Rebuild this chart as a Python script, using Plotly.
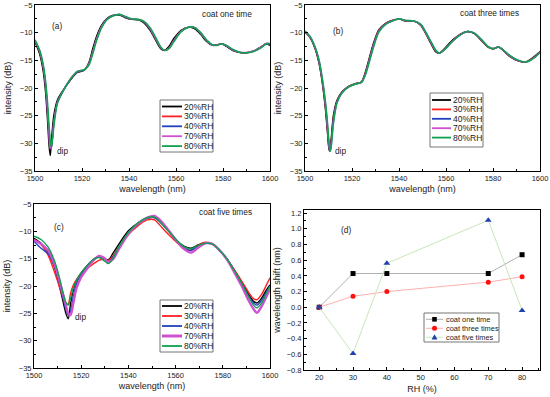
import plotly.graph_objects as go

# ---------------- data ----------------
rh_labels = ["20%RH", "30%RH", "40%RH", "70%RH", "80%RH"]
rh_colors = ["#000000", "#ff2020", "#2040c0", "#d050d0", "#10a050"]

# panel (a): coat one time
wl_a = [1500, 1502, 1503.5, 1504.5, 1505.3, 1506, 1506.5, 1507, 1508, 1509.5, 1512, 1515, 1518,
        1521, 1523, 1524.5, 1526, 1528, 1530.5, 1533, 1536, 1538.5, 1541, 1544, 1546.5, 1549,
        1551.5, 1553.5, 1555, 1557, 1559, 1562, 1565.5, 1568, 1570.5, 1573, 1575.5, 1577.5,
        1579.5, 1581.5, 1584.5, 1587.5, 1590.5, 1593, 1596, 1598.5, 1600]
a_20 = [-11.7, -13.9, -17.0, -20.8, -25.6, -30.5, -32.2, -29.5, -25.0, -22.2, -20.4, -18.6, -17.2,
        -16.8, -15.3, -13.0, -10.9, -8.9, -7.5, -6.9, -6.8, -7.3, -7.6, -7.7, -8.3, -9.6,
        -11.5, -12.9, -13.2, -12.5, -11.1, -9.6, -9.0, -9.3, -10.3, -11.6, -12.3, -12.2,
        -12.0, -12.5, -13.3, -13.6, -13.6, -13.3, -12.6, -12.0, -12.3]
a_30 = [-11.45, -13.45, -16.2, -19.6, -23.8, -28.6, -31.0, -30.6, -26.2, -22.6, -20.5, -18.5, -17.1,
        -16.75, -15.6, -13.6, -11.4, -9.2, -7.6, -6.95, -6.75, -7.2, -7.55, -7.65, -8.1, -9.3,
        -11.2, -12.7, -13.2, -12.8, -11.5, -9.8, -9.0, -9.15, -10.1, -11.4, -12.25, -12.25,
        -12.0, -12.4, -13.2, -13.6, -13.6, -13.35, -12.7, -12.0, -12.1]
a_40 = [-11.45, -13.4, -16.2, -19.5, -23.7, -28.5, -31.0, -30.6, -26.3, -22.6, -20.5, -18.5, -17.1,
        -16.75, -15.6, -13.6, -11.4, -9.2, -7.6, -6.95, -6.75, -7.2, -7.55, -7.65, -8.1, -9.3,
        -11.2, -12.7, -13.2, -12.8, -11.5, -9.8, -9.0, -9.15, -10.1, -11.4, -12.25, -12.25,
        -12.0, -12.4, -13.2, -13.6, -13.6, -13.35, -12.7, -12.0, -12.1]
a_70 = [-11.4, -13.4, -16.1, -19.4, -23.6, -28.4, -30.9, -30.6, -26.4, -22.7, -20.5, -18.4, -17.0,
        -16.7, -15.6, -13.6, -11.4, -9.2, -7.6, -6.95, -6.7, -7.15, -7.5, -7.6, -8.05, -9.3,
        -11.2, -12.7, -13.2, -12.8, -11.5, -9.8, -9.0, -9.1, -10.1, -11.4, -12.25, -12.25,
        -12.0, -12.35, -13.15, -13.55, -13.55, -13.3, -12.65, -11.9, -11.95]
a_80 = [-11.3, -13.2, -15.8, -18.8, -22.5, -27.0, -29.5, -30.7, -27.0, -22.8, -20.5, -18.4, -17.0,
        -16.7, -15.8, -13.9, -11.7, -9.4, -7.7, -7.0, -6.7, -7.1, -7.5, -7.6, -8.0, -9.1,
        -11.0, -12.6, -13.2, -12.9, -11.7, -9.9, -9.0, -9.1, -10.0, -11.3, -12.2, -12.3,
        -12.0, -12.3, -13.1, -13.6, -13.6, -13.4, -12.8, -12.0, -12.0]

# panel (b): coat three times
wl_b = [1500, 1502, 1504.3, 1506, 1507.4, 1508.6, 1509.6, 1510.0, 1510.4, 1510.8, 1511.2, 1512.1,
        1513.6, 1515.7, 1518.6, 1521.4, 1524, 1525.7, 1527.1, 1529.3, 1531.4, 1534.3, 1537.1,
        1540, 1542.9, 1546.4, 1549.3, 1551.4, 1553.6, 1555.7, 1557.1, 1559.3, 1562.9, 1566.4,
        1569.3, 1572.1, 1575, 1577.9, 1580, 1582.4, 1584.3, 1587.1, 1590.7, 1593.9, 1596.4,
        1599.3, 1600]
b_20 = [-9.9, -10.8, -12.9, -15.6, -19.2, -23.4, -28.3, -30.4, -31.4, -30.4, -28.9, -24.9,
        -22.2, -20.7, -19.7, -19.2, -18.9, -17.1, -15.0, -11.7, -9.5, -8.3, -7.8,
        -7.5, -7.9, -7.9, -8.7, -10.2, -12.0, -13.5, -13.7, -12.9, -11.3, -10.2,
        -9.8, -10.2, -11.4, -12.6, -12.9, -12.6, -13.2, -14.3, -15.1, -15.3, -14.7,
        -13.7, -13.4]
b_30 = [-9.85, -10.75, -12.8, -15.4, -18.9, -23.0, -27.7, -29.9, -31.3, -30.8, -29.5, -25.4,
        -22.4, -20.8, -19.7, -19.2, -18.9, -17.3, -15.2, -11.9, -9.6, -8.35, -7.8,
        -7.5, -7.9, -7.9, -8.65, -10.1, -11.9, -13.4, -13.7, -13.0, -11.4, -10.2,
        -9.8, -10.15, -11.35, -12.6, -12.9, -12.6, -13.15, -14.25, -15.1, -15.3, -14.75,
        -13.75, -13.45]
b_40 = [-9.8, -10.7, -12.75, -15.3, -18.8, -22.8, -27.4, -29.6, -31.2, -31.0, -29.8, -25.6,
        -22.5, -20.8, -19.75, -19.25, -18.95, -17.4, -15.3, -12.0, -9.7, -8.4, -7.85,
        -7.5, -7.85, -7.9, -8.6, -10.05, -11.8, -13.35, -13.7, -13.05, -11.45, -10.25,
        -9.8, -10.15, -11.3, -12.55, -12.9, -12.6, -13.15, -14.2, -15.05, -15.3, -14.8,
        -13.8, -13.5]
b_70 = [-9.75, -10.65, -12.65, -15.1, -18.5, -22.4, -26.9, -29.1, -30.8, -31.3, -30.2, -26.1,
        -22.6, -20.9, -19.8, -19.3, -19.0, -17.5, -15.5, -12.2, -9.8, -8.45, -7.9,
        -7.5, -7.8, -7.9, -8.55, -10.0, -11.7, -13.25, -13.7, -13.1, -11.5, -10.3,
        -9.8, -10.1, -11.25, -12.5, -12.9, -12.6, -13.1, -14.15, -15.0, -15.3, -14.85,
        -13.85, -13.55]
b_80 = [-9.7, -10.6, -12.6, -15.0, -18.4, -22.2, -26.5, -28.8, -30.5, -31.4, -30.4, -26.4,
        -22.7, -20.9, -19.8, -19.3, -19.0, -17.6, -15.7, -12.4, -9.9, -8.5, -7.9,
        -7.5, -7.8, -7.9, -8.5, -9.9, -11.6, -13.2, -13.7, -13.1, -11.5, -10.3,
        -9.8, -10.1, -11.2, -12.5, -12.9, -12.6, -13.1, -14.1, -15.0, -15.3, -14.9,
        -13.9, -13.6]

# panel (c): coat five times
wl_c = [1500, 1503, 1506, 1508.5, 1510.5, 1512.5, 1513.5, 1514.5, 1515.5, 1516.5, 1518, 1520,
        1522.5, 1525, 1527.5, 1529.5, 1531.5, 1533.5, 1536, 1540, 1544, 1548, 1551, 1554, 1557,
        1560, 1563.5, 1566.5, 1569.5, 1572.5, 1575.5, 1578.5, 1582, 1585, 1588, 1591, 1593,
        1594.5, 1596.5, 1598.5, 1600]
c_20 = [-11.3, -12.2, -13.8, -16.3, -19.5, -23.2, -25.0, -26.0, -23.2, -21.0, -19.0, -17.6,
        -16.3, -15.2, -14.6, -14.9, -15.2, -14.0, -12.3, -9.9, -8.5, -7.6, -7.5, -8.5, -9.9,
        -11.5, -12.7, -13.1, -12.5, -12.1, -12.3, -13.4, -15.2, -17.2, -19.3, -21.6, -22.8,
        -23.1, -22.2, -20.7, -19.8]
c_30 = [-11.5, -12.4, -14.4, -17.2, -19.8, -22.4, -23.2, -23.3, -21.3, -20.0, -18.8, -17.8,
        -16.8, -16.0, -15.3, -15.1, -15.3, -14.5, -12.8, -10.6, -9.0, -7.9, -7.9, -9.2, -10.6,
        -11.8, -13.2, -13.4, -12.6, -12.0, -12.3, -13.4, -15.2, -17.1, -19.1, -21.2, -22.3,
        -22.5, -21.5, -19.8, -18.5]
c_40 = [-11.8, -13.1, -14.1, -16.2, -19.0, -22.5, -24.3, -25.3, -24.6, -22.3, -19.6, -17.9,
        -16.5, -15.3, -14.6, -14.9, -15.6, -14.7, -12.9, -10.4, -8.7, -7.6, -7.5, -8.5, -9.9,
        -11.6, -13.0, -13.5, -12.7, -12.2, -12.3, -13.4, -15.2, -17.3, -19.5, -21.9, -23.1,
        -23.5, -22.6, -21.1, -20.0]
c_70 = [-11.6, -12.3, -13.5, -15.8, -18.6, -21.8, -23.5, -25.0, -25.3, -23.5, -20.4, -18.4,
        -16.8, -15.4, -14.5, -14.8, -15.6, -15.1, -13.2, -10.5, -8.6, -7.5, -7.2, -8.2, -9.8,
        -11.5, -13.2, -13.9, -13.0, -12.2, -12.3, -13.4, -15.3, -17.6, -20.0, -22.7, -24.2,
        -24.9, -23.7, -21.9, -20.6]
c_80 = [-10.9, -11.5, -12.9, -15.2, -18.0, -21.6, -23.0, -23.5, -22.3, -20.6, -19.0, -17.6,
        -16.3, -15.2, -14.8, -15.3, -15.9, -14.9, -12.8, -10.2, -8.5, -7.5, -7.4, -8.5, -10.0,
        -11.4, -12.8, -13.2, -12.6, -12.2, -12.3, -13.4, -15.2, -17.3, -19.5, -22.0, -23.5,
        -24.0, -23.1, -21.3, -20.0]

# panel (d): wavelength shift of the dip
rh = [20, 30, 40, 70, 80]
coat_labels = ["coat one time", "coat three times", "coat five times"]
shift_one = [0.0, 0.43, 0.43, 0.43, 0.67]
shift_three = [0.0, 0.14, 0.20, 0.32, 0.39]
shift_five = [0.0, -0.59, 0.56, 1.11, -0.04]

W, H = 550, 397
FONT = "Liberation Sans, Arial, sans-serif"
TXT = "#222222"

fig = go.Figure()

panels = [
    ("x", "y", wl_a, [a_20, a_30, a_40, a_70, a_80], [1.4, 1.4, 1.4, 1.4, 1.6]),
    ("x2", "y2", wl_b, [b_20, b_30, b_40, b_70, b_80], [1.4, 1.4, 1.4, 1.4, 1.6]),
    ("x3", "y3", wl_c, [c_20, c_30, c_40, c_70, c_80], [1.4, 1.4, 1.4, 2.4, 1.4]),
]
for xa, ya, wl, series, widths in panels:
    for name, col, ys, w in zip(rh_labels, rh_colors, series, widths):
        fig.add_trace(go.Scatter(x=wl, y=ys, mode="lines", name=name, xaxis=xa, yaxis=ya,
                                 showlegend=False,
                                 line=dict(color=col, width=w, shape="spline", smoothing=0.8)))

d_line_colors = ["#b0b0b0", "#ffb0b0", "#c8e6b8"]
d_mark_colors = ["#000000", "#ff1010", "#2040b0"]
d_symbols = ["square", "circle", "triangle-up"]
for lab, ys, lc, mc, sym in zip(coat_labels, [shift_one, shift_three, shift_five],
                                d_line_colors, d_mark_colors, d_symbols):
    fig.add_trace(go.Scatter(x=rh, y=ys, mode="lines+markers", name=lab, showlegend=False,
                             xaxis="x4", yaxis="y4", line=dict(color=lc, width=1),
                             marker=dict(symbol=sym, color=mc, size=6 if sym == "triangle-up" else 5)))


def px_x(a, b):
    return [a / W, b / W]


def px_y(top, bottom):
    return [1 - bottom / H, 1 - top / H]


def ax(domain, rng, dtick, minor, title, anchor, standoff):
    return dict(domain=domain, range=rng, dtick=dtick, tick0=0, anchor=anchor, automargin=False,
                showline=True, linecolor="#000000", linewidth=1, mirror=True,
                ticks="inside", ticklen=3, tickwidth=1, tickcolor="#000000",
                minor=dict(ticks="inside", ticklen=2, dtick=minor, tickcolor="#000000"),
                showgrid=False, zeroline=False,
                tickfont=dict(size=7.5, color=TXT, family=FONT),
                title=dict(text=title, font=dict(size=9, color=TXT, family=FONT),
                           standoff=standoff))


fig.update_layout(
    width=W, height=H, margin=dict(l=0, r=0, t=0, b=0),
    paper_bgcolor="white", plot_bgcolor="white", showlegend=False,
    font=dict(family=FONT, size=9, color=TXT),
    xaxis=ax(px_x(35, 270), [1500, 1600], 20, 10, "wavelength (nm)", "y", 3),
    yaxis=ax(px_y(5, 171), [-35, -5], 5, 2.5, "intensity (dB)", "x", 6),
    xaxis2=ax(px_x(305, 540), [1500, 1600], 20, 10, "wavelength (nm)", "y2", 3),
    yaxis2=ax(px_y(5, 171), [-35, -5], 5, 2.5, "intensity (dB)", "x2", 6),
    xaxis3=ax(px_x(34, 270), [1500, 1600], 20, 10, "wavelength (nm)", "y3", 3),
    yaxis3=ax(px_y(204, 368), [-35, -5], 5, 2.5, "intensity (dB)", "x3", 6),
    xaxis4=ax(px_x(304, 540), [15.5, 85.3], 10, 5, "RH (%)", "y4", 4),
    yaxis4=ax(px_y(210, 370), [-0.8, 1.24], 0.2, 0.1, "wavelength shift (nm)", "x4", 4),
)
fig.update_layout(yaxis4_tickformat=".1f")

# ---------- hand-drawn compact legends (paper coordinates from pixel positions) ----------
shapes = []
anns = []


def P(x, y):
    return x / W, 1 - y / H


def legend_box(x0, y0, x1, y1):
    a, b = P(x0, y0)
    c, d = P(x1, y1)
    shapes.append(dict(type="rect", xref="paper", yref="paper", x0=a, y0=d, x1=c, y1=b,
                       line=dict(color="#777777", width=1), fillcolor="white", layer="above"))


def legend_line(x0, x1, y, col, w):
    a, b = P(x0, y)
    c, _ = P(x1, y)
    shapes.append(dict(type="line", xref="paper", yref="paper", x0=a, y0=b, x1=c, y1=b,
                       line=dict(color=col, width=w), layer="above"))


def legend_text(x, y, t, size=9):
    a, b = P(x, y)
    anns.append(dict(x=a, y=b, xref="paper", yref="paper", text=t, showarrow=False,
                     xanchor="left", yanchor="middle", font=dict(size=size, family=FONT, color=TXT)))


rh_leg = [  # box, first row y, row step, line x0, line x1, text x, widths
    ((160, 100, 213, 152), 106.5, 9.9, 162, 182, 182, [1.8, 1.8, 1.8, 1.8, 1.8]),
    ((430, 93, 483, 147), 100.0, 9.4, 432, 451, 451, [1.8, 1.8, 1.8, 1.8, 1.8]),
    ((160, 300, 213, 352), 306.0, 10.0, 162, 182, 182, [1.8, 1.8, 1.8, 3.0, 1.8]),
]
for box, r0, dr, lx0, lx1, tx, ws in rh_leg:
    legend_box(*box)
    for i, (lab, col) in enumerate(zip(rh_labels, rh_colors)):
        y = r0 + i * dr
        legend_line(lx0, lx1, y, col, ws[i])
        legend_text(tx, y, lab, 8.5)

legend_box(424, 313, 499, 342)
for i, (lab, lc, mc, sym) in enumerate(zip(coat_labels, d_line_colors, d_mark_colors, d_symbols)):
    y = 319.3 + i * 9.0
    legend_line(426, 443, y, lc, 1)
    cx = 434.5
    if sym == "square":
        a, b = P(cx - 2.3, y - 2.3)
        c, d = P(cx + 2.3, y + 2.3)
        shapes.append(dict(type="rect", xref="paper", yref="paper", x0=a, y0=d, x1=c, y1=b,
                           line=dict(width=0), fillcolor=mc, layer="above"))
    elif sym == "circle":
        a, b = P(cx - 2.5, y - 2.5)
        c, d = P(cx + 2.5, y + 2.5)
        shapes.append(dict(type="circle", xref="paper", yref="paper", x0=a, y0=d, x1=c, y1=b,
                           line=dict(width=0), fillcolor=mc, layer="above"))
    else:
        pts = [P(cx, y - 3), P(cx - 3, y + 2.3), P(cx + 3, y + 2.3)]
        path = "M {} {} L {} {} L {} {} Z".format(*[v for p in pts for v in p])
        shapes.append(dict(type="path", xref="paper", yref="paper", path=path,
                           line=dict(width=0), fillcolor=mc, layer="above"))
    legend_text(444, y, lab, 7.4)

ann_font = dict(size=8.3, family=FONT, color=TXT)
notes = [
    ("x", "y", 1509.4, -8.8, "(a)"), ("x", "y", 1581.7, -6.6, "coat one time"),
    ("x", "y", 1511.5, -31.4, "dip"),
    ("x2", "y2", 1514.0, -9.7, "(b)"), ("x2", "y2", 1578.7, -6.4, "coat three times"),
    ("x2", "y2", 1515.3, -31.4, "dip"),
    ("x3", "y3", 1510.6, -9.2, "(c)"), ("x3", "y3", 1581.0, -6.5, "coat five times"),
    ("x3", "y3", 1519.5, -25.7, "dip"),
    ("x4", "y4", 27.9, 0.985, "(d)"),
]
for xr, yr, xv, yv, t in notes:
    anns.append(dict(x=xv, y=yv, xref=xr, yref=yr, text=t, showarrow=False, font=ann_font))

fig.update_layout(shapes=shapes, annotations=anns)
fig.write_html("out.html", config={"displayModeBar": False},
               post_script="document.body.style.margin='0';document.body.style.overflow='hidden';")
